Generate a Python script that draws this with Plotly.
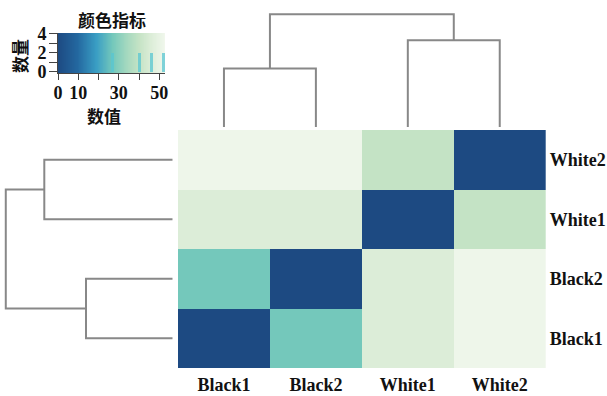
import numpy as np
import plotly.graph_objects as go

W, H = 607, 396

# Samples (same order for rows and columns)
samples = ["Black1", "Black2", "White1", "White2"]

# Pairwise distances between samples
dist = np.array([
    [0, 27, 46, 52],
    [27, 0, 46, 52],
    [46, 46, 0, 40],
    [52, 52, 40, 0],
], dtype=float)

# Histogram shown inside the colour key
hist_values = [27, 40, 46, 52]
hist_counts = [2, 2, 2, 2]

key_max = 52.8
key_ticks = [0, 10, 30, 50]
key_minor_ticks = [20, 40]
count_ticks = [0, 2, 4]
count_minor_ticks = [1, 3]

colorscale = [
    [0.00, "#1d4a82"],
    [0.18, "#23679f"],
    [0.36, "#3a9ec4"],
    [0.51, "#74c8bb"],
    [0.64, "#a3d8bf"],
    [0.76, "#c5e3c5"],
    [0.87, "#dcedd8"],
    [0.985, "#eef6ea"],
    [1.00, "#f3f8ee"],
]


def fx(px):
    return px / W


def fy(py):
    return 1 - py / H


def complete_linkage(d):
    """Return merge segments (U shapes) for a complete-linkage tree.
    Leaf positions are the leaf indices in the given order."""
    clusters = [{"members": [i], "pos": float(i), "h": 0.0} for i in range(len(d))]
    segs = []
    while len(clusters) > 1:
        best = None
        for a in range(len(clusters)):
            for b in range(a + 1, len(clusters)):
                h = max(d[i, j] for i in clusters[a]["members"] for j in clusters[b]["members"])
                if best is None or h < best[0]:
                    best = (h, a, b)
        h, a, b = best
        ca, cb = clusters[a], clusters[b]
        segs.append([(ca["pos"], ca["h"]), (ca["pos"], h), (cb["pos"], h), (cb["pos"], cb["h"])])
        merged = {"members": ca["members"] + cb["members"],
                  "pos": (ca["pos"] + cb["pos"]) / 2, "h": h}
        clusters = [c for k, c in enumerate(clusters) if k not in (a, b)] + [merged]
    return segs


segs = complete_linkage(dist)

fig = go.Figure()

# Main heatmap
fig.add_trace(go.Heatmap(
    z=dist, x=list(range(4)), y=list(range(4)),
    colorscale=colorscale, zmin=0, zmax=key_max, showscale=False,
    xaxis="x", yaxis="y", hoverinfo="skip",
))

line_style = dict(color="#888888", width=2)

# Column dendrogram (top)
tx, ty = [], []
for s in segs:
    for p, h in s:
        tx.append(p)
        ty.append(h)
    tx.append(None)
    ty.append(None)
fig.add_trace(go.Scatter(x=tx, y=ty, mode="lines", line=line_style,
                         xaxis="x2", yaxis="y2", hoverinfo="skip", showlegend=False))

# Row dendrogram (left)
lx, ly = [], []
for s in segs:
    for p, h in s:
        lx.append(h)
        ly.append(p)
    lx.append(None)
    ly.append(None)
fig.add_trace(go.Scatter(x=lx, y=ly, mode="lines", line=line_style,
                         xaxis="x3", yaxis="y3", hoverinfo="skip", showlegend=False))

# Colour key: gradient strip
edges = np.linspace(0, key_max, 241)
mids = (edges[:-1] + edges[1:]) / 2
fig.add_trace(go.Heatmap(
    z=[mids], x=edges, y=[-0.14, 4.1],
    colorscale=colorscale, zmin=0, zmax=key_max, showscale=False,
    xaxis="x4", yaxis="y4", hoverinfo="skip",
))
# Colour key: histogram of values
fig.add_trace(go.Bar(
    x=hist_values, y=hist_counts, width=1.5,
    marker=dict(color="rgba(88,198,210,0.75)", line=dict(width=0)),
    xaxis="x4", yaxis="y4", hoverinfo="skip", showlegend=False,
))

serif = dict(family="Liberation Serif", size=18, color="#111111", weight="bold")
key_serif = dict(family="Liberation Serif", size=18, color="#111111", weight="bold")
cjk = dict(family="Noto Sans CJK SC", size=17, color="#111111", weight="bold")

hm_x = [fx(178), fx(545.7)]
hm_y = [fy(368), fy(130)]

fig.update_layout(
    width=W, height=H,
    margin=dict(l=0, r=0, t=0, b=0, pad=0, autoexpand=False),
    paper_bgcolor="white", plot_bgcolor="white",
    showlegend=False,
    bargap=0,
    xaxis=dict(domain=hm_x, range=[-0.5, 3.5], tickvals=list(range(4)), ticktext=samples,
               ticks="", showgrid=False, zeroline=False, showline=False, automargin=False,
               tickfont=serif, ticklabelstandoff=4, anchor="y"),
    yaxis=dict(domain=hm_y, range=[-0.5, 3.5], tickvals=list(range(4)), ticktext=samples,
               side="right", ticks="", showgrid=False, zeroline=False, showline=False,
               automargin=False, tickfont=serif, ticklabelstandoff=3, anchor="x"),
    xaxis2=dict(domain=hm_x, range=[-0.5, 3.5], visible=False, automargin=False, anchor="y2"),
    yaxis2=dict(domain=[fy(127), fy(10)], range=[0, 53.98], visible=False, automargin=False,
                anchor="x2"),
    xaxis3=dict(domain=[0, fx(172.7)], range=[53.8, 0], visible=False, automargin=False,
                anchor="y3"),
    yaxis3=dict(domain=hm_y, range=[-0.5, 3.5], visible=False, automargin=False, anchor="x3"),
    xaxis4=dict(domain=[fx(58), fx(165)], range=[0, key_max], tickvals=key_ticks,
                ticks="outside", ticklen=6, tickwidth=1, tickcolor="#444444",
                minor=dict(tickvals=key_minor_ticks, ticks="outside", ticklen=6,
                           tickwidth=1, tickcolor="#444444", showgrid=False),
                showline=True, linecolor="#444444", linewidth=1,
                showgrid=False, zeroline=False, automargin=False, tickfont=key_serif,
                ticklabelstandoff=-3, anchor="y4"),
    yaxis4=dict(domain=[fy(73), fy(33)], range=[-0.14, 4.1], tickvals=count_ticks,
                ticks="outside", ticklen=8, tickwidth=1, tickcolor="#444444",
                minor=dict(tickvals=count_minor_ticks, ticks="outside", ticklen=8,
                           tickwidth=1, tickcolor="#444444", showgrid=False),
                showline=True, linecolor="#444444", linewidth=1,
                showgrid=False, zeroline=False, automargin=False, tickfont=key_serif,
                ticklabelstandoff=-1, anchor="x4"),
    annotations=[
        dict(text="颜色指标", x=fx(112), y=fy(19.5), xref="paper", yref="paper",
             showarrow=False, font=cjk, xanchor="center", yanchor="middle"),
        dict(text="数值", x=fx(103.5), y=fy(115), xref="paper", yref="paper",
             showarrow=False, font=cjk, xanchor="center", yanchor="middle"),
        dict(text="数量", x=fx(19), y=fy(56), xref="paper", yref="paper",
             showarrow=False, font=cjk, xanchor="center", yanchor="middle", textangle=-90),
    ],
)

fig.write_html("out.html", config={"responsive": False})
